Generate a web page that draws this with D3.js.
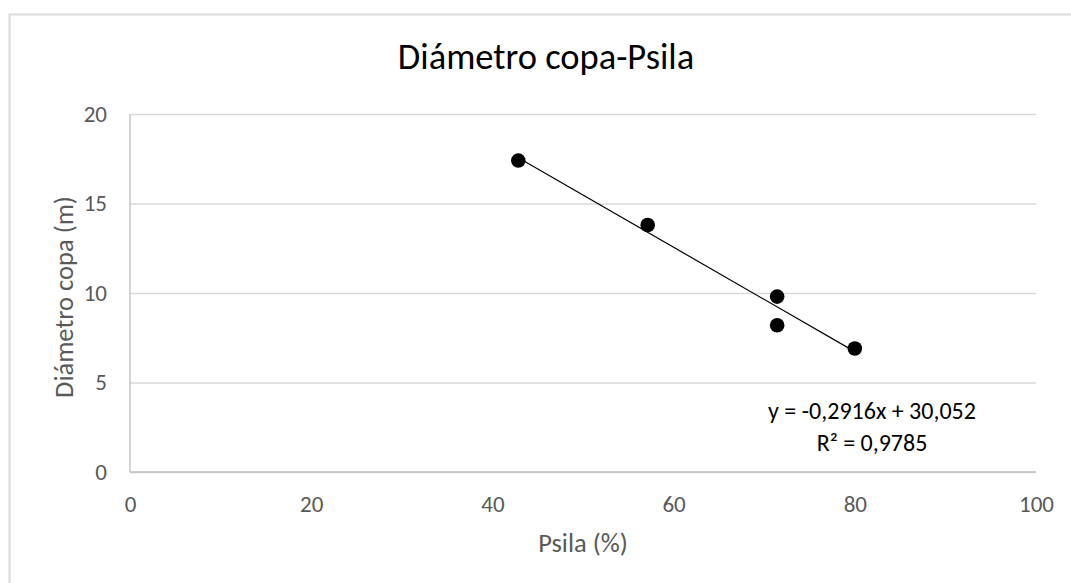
<!DOCTYPE html>
<html>
<head>
<meta charset="utf-8">
<script src="https://cdn.jsdelivr.net/npm/d3@7"></script>
<style>
  html, body { margin: 0; padding: 0; background: #fff; }
  svg { display: block; }
  text { font-family: Calibri, Carlito, Lato, sans-serif; }
</style>
</head>
<body>
<svg id="chart" width="1071" height="583"></svg>
<script>
// ---- data ----
const title = "Diámetro copa-Psila";
const xTitle = "Psila (%)";
const yTitle = "Diámetro copa (m)";
const psila = [42.86, 57.14, 71.43, 71.43, 80.0];
const diametro = [17.4, 13.8, 9.8, 8.2, 6.9];
const xTicks = [0, 20, 40, 60, 80, 100];
const yTicks = [0, 5, 10, 15, 20];
const trendSlope = -0.2916;
const trendIntercept = 30.052;
const trendR2 = 0.9785;
const eqLines = ["y = -0,2916x + 30,052", "R² = 0,9785"];

// ---- layout ----
const svg = d3.select("#chart");
const W = 1071, H = 583;
const plot = { left: 130, right: 1036, top: 114, bottom: 472 };

const x = d3.scaleLinear().domain([0, 100]).range([plot.left, plot.right]);
const y = d3.scaleLinear().domain([0, 20]).range([plot.bottom, plot.top]);

// chart border (only left and top visible in reference)
svg.append("rect")
  .attr("x", 9.5).attr("y", 14.5)
  .attr("width", W + 20).attr("height", H + 20)
  .attr("fill", "#fff").attr("stroke", "#d9d9d9").attr("stroke-width", 2);

// title
svg.append("text")
  .attr("x", 546).attr("y", 69)
  .attr("text-anchor", "middle")
  .attr("font-size", 36.5)
  .attr("fill", "#000")
  .text(title);

// gridlines
const yAxis = d3.axisLeft(y).tickValues(yTicks)
  .tickSize(-(plot.right - plot.left)).tickPadding(23).tickFormat(d3.format("d"));
const gy = svg.append("g").attr("transform", `translate(${plot.left},0)`).call(yAxis);
gy.select(".domain").remove();
gy.selectAll(".tick line").attr("stroke", "#d9d9d9").attr("stroke-width", 1.3);
gy.selectAll(".tick text").attr("fill", "#595959").attr("font-size", 23)
  .style("font-family", "Calibri, Carlito, Lato, sans-serif");

const xAxis = d3.axisBottom(x).tickValues(xTicks).tickSize(0).tickPadding(24).tickFormat(d3.format("d"));
const gx = svg.append("g").attr("transform", `translate(0,${plot.bottom})`).call(xAxis);
gx.select(".domain").remove();
gx.selectAll(".tick text").attr("fill", "#595959").attr("font-size", 23)
  .style("font-family", "Calibri, Carlito, Lato, sans-serif");

// axis lines
svg.append("line")
  .attr("x1", plot.left).attr("x2", plot.left)
  .attr("y1", y(20)).attr("y2", y(0))
  .attr("stroke", "#bfbfbf").attr("stroke-width", 1.3);
svg.append("line")
  .attr("x1", plot.left).attr("x2", plot.right)
  .attr("y1", y(0)).attr("y2", y(0))
  .attr("stroke", "#bfbfbf").attr("stroke-width", 1.3);

// axis titles
svg.append("text")
  .attr("x", x(50)).attr("y", 552)
  .attr("text-anchor", "middle")
  .attr("font-size", 26.5)
  .attr("fill", "#595959")
  .text(xTitle);
svg.append("text")
  .attr("transform", `translate(73,${297}) rotate(-90)`)
  .attr("text-anchor", "middle")
  .attr("font-size", 26.5)
  .attr("fill", "#595959")
  .text(yTitle);

// trendline
const xMin = d3.min(psila), xMax = d3.max(psila);
svg.append("line")
  .attr("x1", x(xMin)).attr("y1", y(trendSlope * xMin + trendIntercept))
  .attr("x2", x(xMax)).attr("y2", y(trendSlope * xMax + trendIntercept))
  .attr("stroke", "#000").attr("stroke-width", 1.2);

// points
svg.append("g").selectAll("circle")
  .data(psila.map((v, i) => [v, diametro[i]]))
  .join("circle")
  .attr("cx", d => x(d[0])).attr("cy", d => y(d[1]))
  .attr("r", 7.3).attr("fill", "#000");

// equation label
const eq = svg.append("text")
  .attr("text-anchor", "middle")
  .attr("font-size", 24)
  .attr("fill", "#000");
eq.selectAll("tspan").data(eqLines).join("tspan")
  .attr("x", 872)
  .attr("y", (d, i) => 419 + i * 32)
  .text(d => d);
</script>
</body>
</html>
